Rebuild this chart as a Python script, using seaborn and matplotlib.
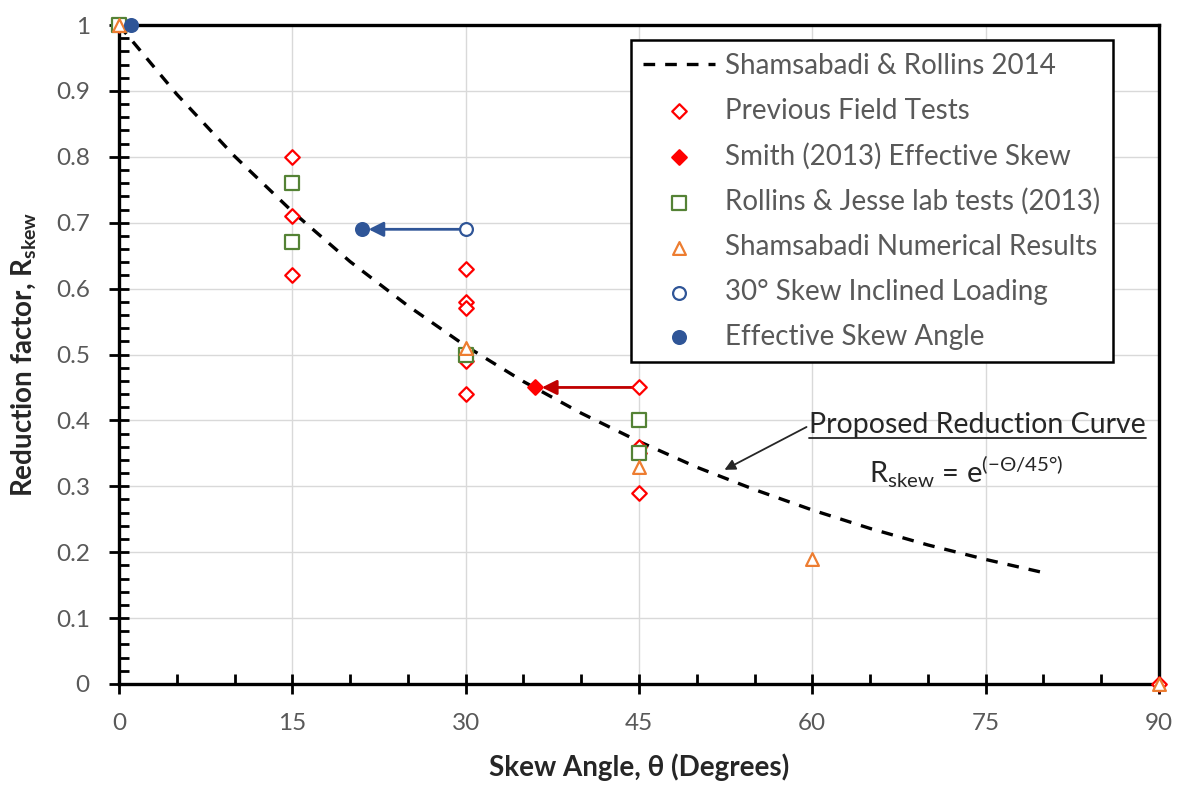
import numpy as np
import matplotlib
matplotlib.use("Agg")
import matplotlib.pyplot as plt
import seaborn as sns
from matplotlib.ticker import MultipleLocator, FuncFormatter

# proposed curve
curve_x = [0, 5, 10, 15, 20, 25, 30, 35, 40, 45, 50, 55, 60, 65, 70, 75, 80]
curve_y = [1.0, 0.895, 0.801, 0.717, 0.641, 0.574, 0.513, 0.459, 0.411,
           0.368, 0.329, 0.295, 0.264, 0.236, 0.211, 0.189, 0.169]

field_x = [0, 15, 15, 15, 30, 30, 30, 30, 30, 45, 45, 45, 45, 90]
field_y = [1.0, 0.80, 0.71, 0.62, 0.63, 0.58, 0.57, 0.49, 0.44, 0.45, 0.36, 0.35, 0.29, 0.0]

smith_x = [36]
smith_y = [0.45]

lab_x = [0, 15, 15, 30, 45, 45]
lab_y = [1.0, 0.76, 0.67, 0.50, 0.40, 0.35]

num_x = [0, 30, 45, 60, 90]
num_y = [1.0, 0.51, 0.33, 0.19, 0.0]

incl_x = [30]
incl_y = [0.69]

eff_x = [1, 21]
eff_y = [1.0, 0.69]

sns.set_style("white")
plt.rcParams['font.family'] = ['Lato', 'DejaVu Sans']

fig = plt.figure(figsize=(11.8, 7.87), dpi=100)
ax = fig.add_axes([0.1008, 0.1309, 0.8814, 0.8373])

gray = '#595959'
dark = '#262626'
red = '#FF0000'
green = '#548235'
orange = '#ED7D31'
blue = '#2F5597'

ax.grid(True, which='major', color='#D9D9D9', lw=1.0)
ax.set_axisbelow(True)

# arrows for effective skew
ax.annotate('', xy=(smith_x[0] + 0.6, smith_y[0]), xytext=(field_x[9], field_y[9]),
            arrowprops=dict(arrowstyle='-|>', color='#C00000', lw=2, mutation_scale=22,
                            shrinkA=0, shrinkB=0), zorder=2)
ax.annotate('', xy=(eff_x[1] + 0.6, eff_y[1]), xytext=(incl_x[0], incl_y[0]),
            arrowprops=dict(arrowstyle='-|>', color=blue, lw=2, mutation_scale=22,
                            shrinkA=0, shrinkB=0), zorder=2)

sns.lineplot(x=curve_x, y=curve_y, ax=ax, color='black', lw=2.4, linestyle=(0, (3.5, 3)),
             label='Shamsabadi & Rollins 2014', zorder=3)

mk = dict(ax=ax, s=55, linewidth=1.6, clip_on=False, zorder=4)
sns.scatterplot(x=field_x, y=field_y, marker='D', facecolor='white', edgecolor=red,
                label='Previous Field Tests', **mk)
sns.scatterplot(x=smith_x, y=smith_y, marker='D', color=red, edgecolor=red,
                label='Smith (2013) Effective Skew', **mk)
sns.scatterplot(x=lab_x, y=lab_y, marker='s', facecolor='white', edgecolor=green,
                label='Rollins & Jesse lab tests (2013)', **dict(mk, s=100))
sns.scatterplot(x=num_x, y=num_y, marker='^', facecolor='white', edgecolor=orange,
                label='Shamsabadi Numerical Results', **dict(mk, s=85))
sns.scatterplot(x=incl_x, y=incl_y, marker='o', facecolor='white', edgecolor=blue,
                label='30° Skew Inclined Loading', **dict(mk, s=85))
sns.scatterplot(x=eff_x, y=eff_y, marker='o', color=blue, edgecolor=blue,
                label='Effective Skew Angle', **dict(mk, s=85))

ax.set_xlim(0, 90)
ax.set_ylim(0, 1)
ax.xaxis.set_major_locator(MultipleLocator(15))
ax.xaxis.set_minor_locator(MultipleLocator(5))
ax.yaxis.set_major_locator(MultipleLocator(0.1))
ax.yaxis.set_minor_locator(MultipleLocator(0.02))
ax.yaxis.set_major_formatter(FuncFormatter(lambda v, p: f"{v:g}"))

ax.tick_params(which='both', bottom=True, left=True, top=False, right=False)
ax.tick_params(which='major', direction='inout', length=14, width=2, colors='black',
               labelcolor=gray, labelsize=17.5, pad=14)
ax.tick_params(which='minor', direction='in', length=7, width=2, colors='black')
for s in ax.spines.values():
    s.set_color('black')
    s.set_linewidth(2.4)
    s.set_visible(True)

ax.set_xlabel('Skew Angle, θ (Degrees)', fontsize=20, fontweight='bold', color=dark, labelpad=14)
ax.set_ylabel(r'Reduction factor, R$_\mathregular{skew}$', fontsize=20, fontweight='bold',
              color=dark, labelpad=12)

leg = ax.legend(loc='upper left', bbox_to_anchor=(0.492, 0.977), fontsize=20, frameon=True,
                fancybox=False, framealpha=1, edgecolor='black', labelspacing=0.68,
                handlelength=2.6, handletextpad=0.35, borderpad=0.45, borderaxespad=0)
leg.get_frame().set_linewidth(1.8)
for t in leg.get_texts():
    t.set_color(gray)

ax.annotate('', xy=(52.4, 0.325), xytext=(59.5, 0.39),
            arrowprops=dict(arrowstyle='-|>', color=dark, lw=1.3, mutation_scale=16,
                            shrinkA=0, shrinkB=0))
lbl = ax.text(59.75, 0.381, 'Proposed Reduction Curve', fontsize=20.5, color=dark,
              ha='left', va='baseline')
ax.text(64.9, 0.305, r'R$_\mathregular{skew}$ = e$^\mathregular{(-Θ/45°)}$', fontsize=21,
        color=dark, ha='left', va='baseline')

# underline the annotation text
fig.canvas.draw()
bb = lbl.get_window_extent().transformed(ax.transData.inverted())
ax.plot([bb.x0, bb.x1], [0.373, 0.373], color=dark, lw=1.3)

fig.savefig('out.png', dpi=100)
